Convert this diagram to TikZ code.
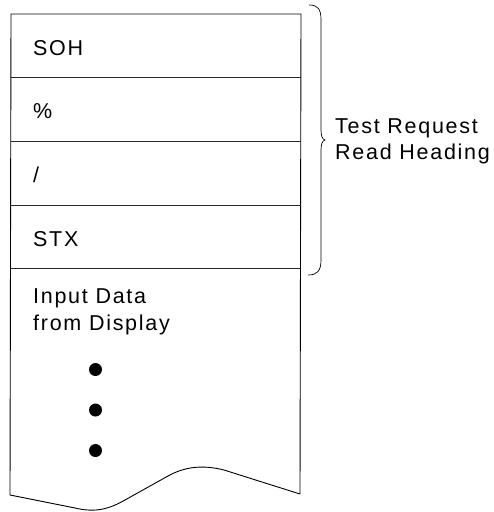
\documentclass[tikz,border=0pt]{standalone}
\usepackage{fontspec}
\setmainfont{Liberation Sans}[LetterSpace=8]
\begin{document}
\begin{tikzpicture}[x=1pt,y=-1pt,
  frame/.style={line width=0.9pt,black},
  divider/.style={line width=0.7pt,black!85},
  label/.style={anchor=base west,inner sep=0pt,font=\fontsize{21.5}{26}\selectfont},
  dot/.style={circle,fill=black,inner sep=0pt,minimum size=13pt}]
\useasboundingbox (0,0) rectangle (494,512);

% record outline with torn bottom edge
\coordinate (tl) at (11,14);
\coordinate (tr) at (301,14);
\coordinate (bl) at (10,495);
\coordinate (br) at (300,494);
\draw[frame] (bl) -- (tl) -- (tr) -- (br);
\draw[frame] (bl) -- (75,508) .. controls (92,512) and (106,511) .. (125,500)
  -- (168,476) .. controls (186,466) and (204,465) .. (224,470) -- (br);

% field dividers
\foreach \y in {77,141,205,268}{
  \draw[divider] (11,\y) -- (301,\y);
}

% field contents
\node[label] (soh) at (33,55) {SOH};
\node[label] (pct) at (33,118) {\%};
\node[label] (sl) at (33,182) {/};
\node[label] (stx) at (33,246) {STX};
\node[label,align=left,anchor=north west] (inp) at (33,289)
  {Input Data\\[1pt]from Display};

\node[dot] (d1) at (95.5,369.5) {};
\node[dot] (d2) at (95.5,410) {};
\node[dot] (d3) at (95.5,450.5) {};

% brace over the heading fields
\draw[line width=0.7pt] (309,5) .. controls (318,5) and (321,9) .. (321,20)
  -- (321,128) .. controls (321,136) and (322,139) .. (325,140)
  .. controls (322,141) and (321,144) .. (321,152)
  -- (321,260) .. controls (321,271) and (317,275) .. (308,275);
\node[label,align=left,anchor=west] (hdr) at (335,141)
  {Test Request\\Read Heading};
\end{tikzpicture}
\end{document}
